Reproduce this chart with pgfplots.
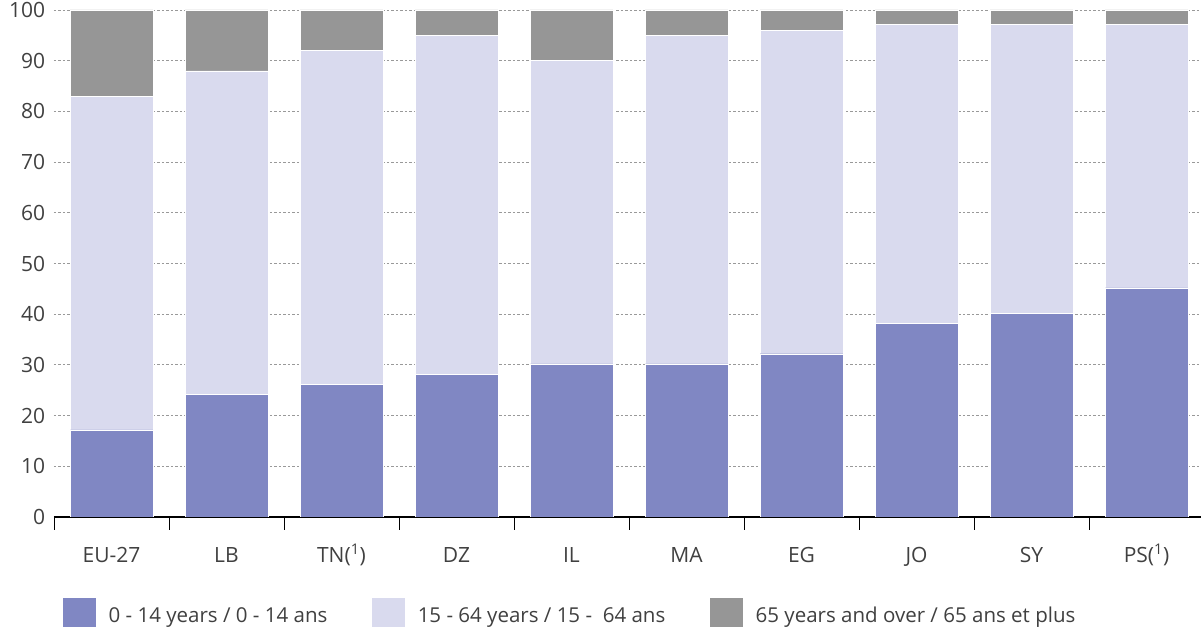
\documentclass[border=0pt]{standalone}
\usepackage{pgfplots}
\pgfplotsset{compat=1.18}
\usepackage{fontspec}
\setmainfont{Open Sans}
\definecolor{young}{RGB}{128,135,195}
\definecolor{work}{RGB}{217,218,238}
\definecolor{old}{RGB}{150,150,150}
\newcommand{\tickfont}{\fontsize{21bp}{25bp}\selectfont}
\newcommand{\legfont}{\fontsize{20.5bp}{24bp}\selectfont}

% share of population by age group, %
\pgfplotstableread{
x  young work old
0  17.2  65.8  17.0
1  24.2  63.8  12.0
2  26.2  65.8  8.0
3  28.2  66.8  5.0
4  30.2  59.9  9.9
5  30.2  64.8  5.0
6  32.2  63.8  4.0
7  38.2  58.9  2.9
8  40.2  56.9  2.9
9  45.2  51.9  2.9
}\agedata

\begin{document}
\begin{tikzpicture}
\begin{axis}[
  name=ax,
  scale only axis, width=1150bp, height=507bp,
  ybar stacked, bar width=0.72,
  xmin=-0.5, xmax=9.5, ymin=0, ymax=100,
  xtick={0,...,9},
  xticklabels={EU-27,LB,TN(\textsuperscript{1}),DZ,IL,MA,EG,JO,SY,PS(\textsuperscript{1})},
  minor xtick={-0.5,0.5,...,9.5},
  major x tick style={draw=none},
  minor tick length=13bp,
  tick align=outside,
  x tick style={black, line width=0.8bp},
  ytick={0,10,...,100},
  y tick style={draw=none},
  axis x line*=bottom, axis y line*=left,
  x axis line style={-, black, line width=1.8bp},
  y axis line style={draw=none},
  ymajorgrids,
  grid style={gray!80, dash pattern=on 2.5bp off 2bp, line width=0.8bp},
  tick label style={font=\tickfont, text=black!75},
  /pgf/number format/assume math mode=true,
  xticklabel style={text height=18bp, text depth=5bp, yshift=-19.5bp},
  yticklabel style={xshift=-1bp},
  legend columns=3,
  legend style={at={(0,0)}, anchor=north west, xshift=8bp, yshift=-80bp,
    draw=none, font=\legfont, text=black!75, inner sep=0pt,
    /tikz/every odd column/.append style={column sep=10bp},
    /tikz/every even column/.append style={column sep=42bp}},
  legend image code/.code={\fill[#1] (0bp,-12bp) rectangle (34bp,18bp);},
]
\addplot[fill=young, draw=white, line width=0.4bp] table[x=x, y=young] {\agedata};
\addplot[fill=work, draw=white, line width=0.4bp] table[x=x, y=work] {\agedata};
\addplot[fill=old, draw=white, line width=0.4bp] table[x=x, y=old] {\agedata};
\legend{0 - 14 years / 0 - 14 ans, 15 - 64 years / 15 -\ \ 64 ans, 65 years and over / 65 ans et plus}
\end{axis}
\pgfresetboundingbox
\path ([shift={(-54bp,-114bp)}]ax.south west) rectangle ([shift={(-3bp,10bp)}]ax.north east);
\end{tikzpicture}
\end{document}
